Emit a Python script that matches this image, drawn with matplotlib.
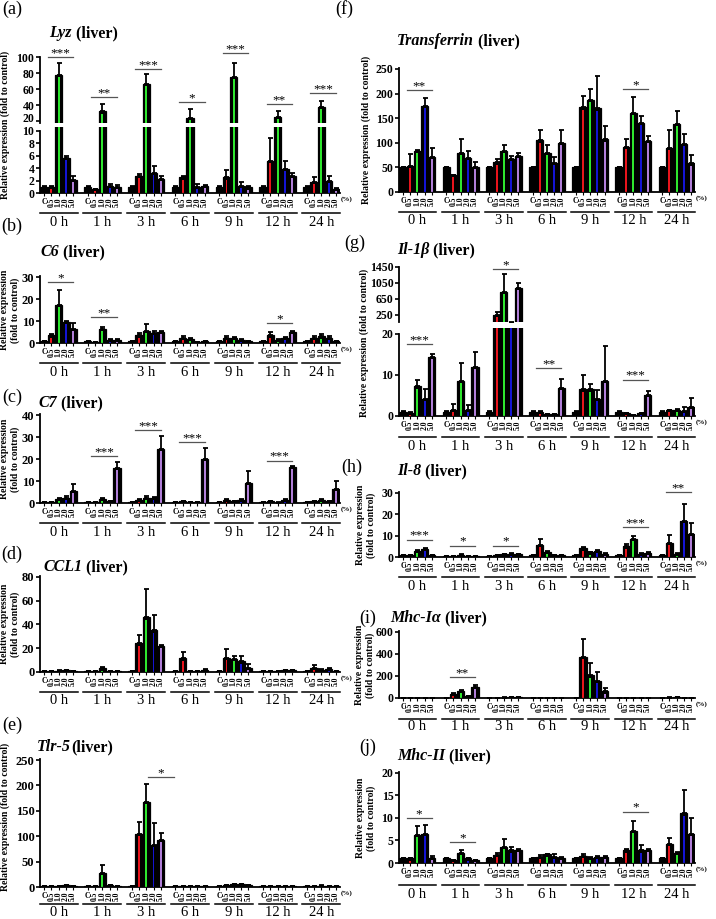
import numpy as np
import matplotlib.pyplot as plt
from matplotlib import transforms

plt.rcParams['font.family'] = ['Liberation Serif', 'DejaVu Serif']

W, H = 716, 919
fig = plt.figure(figsize=(W / 100, H / 100), dpi=100)

times = ['0 h', '1 h', '3 h', '6 h', '9 h', '12 h', '24 h']
doses = ['C', '0.5', '1.0', '2.0', '5.0']
colors = ['black', '#e8141c', '#2ee62e', '#1414d2', '#b07ed8']

# mean values per time point (C, 0.5, 1.0, 2.0, 5.0) and top of the error bar
lyz_mean = [[1.0, 1.0, 78, 5.6, 2.1], [1.0, 0.6, 32, 1.2, 1.0], [1.0, 2.8, 66, 3.2, 2.3],
            [1.0, 2.5, 24, 1.0, 1.2], [1.0, 2.5, 75, 1.2, 0.9], [1.0, 5.2, 25, 3.9, 2.8],
            [1.0, 1.8, 38, 2.0, 0.7]]
lyz_top = [[1.2, 1.1, 93, 5.9, 2.8], [1.1, 0.7, 41, 1.4, 1.3], [1.1, 3.1, 79, 4.3, 2.7],
           [1.1, 2.7, 35, 1.5, 1.3], [1.1, 3.7, 93, 1.7, 1.1], [1.1, 8.8, 32, 5.2, 3.2],
           [1.1, 2.5, 45, 2.8, 0.8]]

c6_mean = [[1.0, 3.5, 17.5, 9.5, 6.5], [1.0, 0.5, 6.5, 1.5, 1.5], [1.0, 3.5, 5.5, 4.5, 5.0],
           [1.0, 2.5, 2.0, 0.5, 1.0], [1.0, 2.5, 2.5, 1.5, 1.0], [1.0, 3.5, 1.5, 2.5, 5.0],
           [1.0, 2.5, 3.0, 2.5, 1.0]]
c6_top = [[1.1, 4.0, 24, 9.8, 9.0], [1.1, 0.6, 7.2, 1.7, 1.7], [1.1, 4.5, 8.5, 5.5, 5.5],
          [1.1, 3.0, 2.5, 0.6, 1.1], [1.1, 3.0, 2.8, 1.7, 1.1], [1.1, 5.0, 1.7, 2.8, 5.3],
          [1.1, 3.0, 4.0, 3.0, 1.1]]

c7_mean = [[0.5, 0.5, 2.0, 2.5, 5.5], [0.5, 0.5, 2.0, 1.0, 16], [0.5, 1.5, 2.5, 2.5, 24.5],
           [0.5, 1.0, 0.5, 0.5, 20], [0.5, 1.5, 1.0, 1.5, 9.0], [0.5, 0.8, 0.2, 1.5, 16.3],
           [0.5, 1.0, 1.5, 1.0, 6.5]]
c7_top = [[0.6, 0.6, 2.5, 3.0, 8.8], [0.6, 0.6, 2.3, 1.1, 18.5], [0.6, 1.7, 3.0, 2.8, 30.5],
          [0.6, 1.1, 0.6, 0.6, 25], [0.6, 2.0, 1.1, 1.7, 14.5], [0.6, 0.9, 0.3, 1.6, 16.6],
          [0.6, 1.1, 1.7, 1.1, 10]]

ccl1_mean = [[0.8, 0.8, 1.2, 1.5, 0.8], [0.8, 1.0, 3.0, 1.0, 0.5], [0.5, 24, 46, 35, 22],
             [0.5, 11.5, 0.5, 0.5, 2.0], [0.5, 12, 11, 9, 3.5], [0.5, 0.5, 0.5, 1.5, 1.5],
             [0.5, 3.5, 2.0, 2.5, 1.0]]
ccl1_top = [[0.9, 0.9, 1.4, 1.8, 0.9], [0.9, 1.2, 4.0, 1.2, 0.6], [0.6, 31, 70, 48, 22.5],
            [0.6, 17, 0.6, 0.6, 2.3], [0.6, 19, 13.5, 13.5, 6.5], [0.6, 0.6, 0.6, 1.7, 1.7],
            [0.6, 6.0, 2.3, 3.5, 1.1]]

tlr5_mean = [[1, 1, 2, 3, 1.5], [1, 1, 28, 3, 1], [1, 105, 167, 83, 92], [1, 2, 1.5, 2, 1.5],
             [1, 3, 5, 5, 3], [1, 1.5, 1, 2, 1.5], [1, 1.5, 2.5, 2, 1.5]]
tlr5_top = [[1.2, 1.2, 2.5, 3.5, 2], [1.2, 1.2, 44, 3.5, 1.2], [1.2, 128, 202, 126, 106],
            [1.2, 2.5, 2, 2.5, 2], [1.2, 3.5, 6, 6, 3.5], [1.2, 2, 1.2, 2.5, 2],
            [1.2, 2, 3, 2.5, 2]]

tf_mean = [[50, 53, 83, 175, 71], [50, 34, 79, 70, 51], [50, 60, 84, 67, 74],
           [50, 105, 79, 59, 100], [50, 172, 187, 170, 107], [50, 92, 160, 141, 104],
           [50, 90, 139, 97, 58]]
tf_top = [[50.5, 78, 85, 192, 90], [50.5, 35, 107, 83, 60], [50.5, 68, 96, 73, 79],
          [50.5, 126, 95, 71, 127], [50.5, 195, 209, 236, 134], [50.5, 108, 194, 154, 114],
          [50.5, 125, 165, 117, 75]]

il1b_mean = [[1, 0.8, 7.2, 4.2, 14.5], [1, 1.5, 8.5, 1.5, 12], [1, 250, 835, 60, 925],
             [1, 1, 0.5, 0.5, 6.8], [1, 6.5, 6.5, 4.2, 8.5], [1, 0.7, 0.2, 0.7, 5.2],
             [1, 1.4, 1.4, 1.3, 2.3]]
il1b_top = [[1.1, 0.9, 8.8, 6.7, 15.0], [1.1, 3.0, 13, 2.7, 15.5], [1.1, 335, 1275, 70, 1057],
            [1.1, 1.1, 0.6, 0.6, 9.0], [1.1, 10, 7.7, 6.4, 17], [1.1, 0.8, 0.3, 0.8, 6.1],
            [1.1, 1.5, 1.6, 2.3, 4.5]]

il8_mean = [[1, 1, 3, 3.8, 1], [0.5, 0.3, 1.0, 0.5, 0.5], [0.5, 0.8, 1.2, 1.5, 1.2],
            [1, 5.5, 2.5, 1, 1], [1, 4, 2.2, 2.8, 1.5], [1, 5, 8.5, 1.5, 2],
            [1, 6.5, 1.5, 17, 11]]
il8_top = [[1.1, 1.1, 3.5, 4.3, 1.1], [0.6, 0.4, 1.5, 0.6, 0.6], [0.6, 0.9, 1.4, 1.7, 1.4],
           [1.1, 8.5, 2.8, 1.1, 1.1], [1.1, 4.5, 2.5, 3.2, 1.7], [1.1, 6.3, 10, 1.7, 2.2],
           [1.1, 10.5, 1.7, 25, 16]]

mhc1_mean = [[1, 2, 2, 2, 1.5], [1, 38, 65, 20, 100], [1, 3, 4, 8, 5], [1, 1, 2, 1.5, 1],
             [1, 375, 205, 155, 60], [1, 2, 1.5, 1, 1], [1, 4, 6, 3, 2]]
mhc1_top = [[2, 3, 3, 3, 2.5], [2, 42, 72, 22, 115], [2, 4, 5, 10, 6], [2, 2, 3, 2.5, 2],
            [2, 540, 320, 240, 90], [2, 3, 2.5, 2, 2], [2, 6, 8, 4, 3]]

mhc2_mean = [[1, 1, 6.2, 6.5, 1.2], [1, 0.6, 2.2, 1.0, 0.6], [1, 1.8, 3.5, 2.8, 2.9],
             [1, 1.4, 1.9, 1.3, 1.2], [1, 1.6, 1.2, 1.4, 1.3], [1, 2.8, 7.1, 2.8, 2.9],
             [1, 4.2, 2.3, 11, 6.5]]
mhc2_top = [[1.1, 1.2, 8.3, 8.5, 1.5], [1.1, 0.7, 2.8, 1.1, 0.7], [1.1, 2.2, 5.3, 3.5, 3.0],
            [1.1, 1.8, 2.1, 1.9, 1.3], [1.1, 1.9, 1.3, 1.5, 1.6], [1.1, 3.2, 9.4, 4.0, 3.1],
            [1.1, 5.5, 2.5, 16.3, 10]]

# significance marks: (time index, stars, height of line)
lyz_sig = [(0, '***', 100), (1, '**', 50), (2, '***', 85), (3, '*', 44),
           (4, '***', 105), (5, '**', 41), (6, '***', 55)]
c6_sig = [(0, '*', 27.7), (1, '**', 11.6), (5, '*', 9)]
c7_sig = [(1, '***', 21.4), (2, '***', 33.2), (3, '***', 27.6), (5, '***', 19.3)]
tlr5_sig = [(2, '*', 217)]
tf_sig = [(0, '**', 207), (5, '*', 209)]
il1b_sig_up = [(2, '*', 1400)]
il1b_sig_lo = [(0, '***', 17.5), (3, '**', 11.7), (5, '***', 8.9)]
il8_sig = [(0, '***', 8.1), (1, '*', 5.3), (2, '*', 5.3), (5, '***', 13.9), (6, '**', 30.3)]
mhc1_sig = [(1, '**', 190)]
mhc2_sig = [(0, '*', 10), (1, '*', 4.7), (5, '*', 11.4)]

PITCH = 6
xs = np.array([g * PITCH + i for g in range(7) for i in range(5)], dtype=float)
LEFT = (40, 340)
RIGHT = (399, 695)


def add_ax(col, ytop, ybot, ylim, ticks, spine=None, fs=None):
    x0, x1 = col
    ax = fig.add_axes([x0 / W, 1 - ybot / H, (x1 - x0) / W, (ybot - ytop) / H])
    ax.set_xlim(-0.55, 6 * PITCH + 4.55)
    ax.set_ylim(*ylim)
    ax.set_yticks(ticks)
    if fs is None:
        fs = 9 if col == LEFT else 8.5
    ax.set_yticklabels([str(t) for t in ticks], fontsize=fs, fontweight='bold')
    for s in ['top', 'right']:
        ax.spines[s].set_visible(False)
    ax.spines['left'].set_linewidth(1.3)
    ax.spines['bottom'].set_linewidth(1.3)
    if spine is not None:
        ax.spines['left'].set_bounds(*spine)
    ax.tick_params(axis='y', length=3, width=1.2, pad=1)
    return ax


def nudge(label, dy_px):
    label.set_transform(label.get_transform() +
                        transforms.ScaledTranslation(0, dy_px / 100, fig.dpi_scale_trans))


def draw_bars(ax, mean, top):
    m = np.array(mean, dtype=float).ravel()
    t = np.array(top, dtype=float).ravel()
    y0, y1 = ax.get_ylim()
    hpx = ax.get_position().height * H
    shrink = 2.2 * (y1 - y0) / hpx
    cols = [colors[i] for g in range(7) for i in range(5)]
    ax.errorbar(xs, m, yerr=[np.zeros_like(m), t - m], fmt='none', ecolor='black',
                elinewidth=1.3, capsize=1.8, capthick=1.3, zorder=1)
    ax.bar(xs, m, width=1.0, color='black', linewidth=0, zorder=2)
    sel = np.array([i > 0 for g in range(7) for i in range(5)])
    ax.bar(xs[sel], np.maximum(m[sel] - shrink, 0), width=0.26,
           color=[c for c, s in zip(cols, sel) if s], linewidth=0, zorder=3)
    ax.bar(xs, m, width=1.0, fill=False, edgecolor='black', linewidth=0.9, zorder=4)


def draw_sig(ax, sig, x0off=0.5, x1off=4.0):
    for g, stars, y in sig:
        a, b = g * PITCH + x0off, g * PITCH + x1off
        ax.plot([a, b], [y, y], color='#555555', lw=0.9, clip_on=False, zorder=5)
        ax.annotate(stars, xy=((a + b) / 2, y), xytext=(0, -1.5), textcoords='offset points',
                    ha='center', va='bottom', fontsize=9.5, annotation_clip=False)


def x_axis(ax, col, y0px, dline=20, dtime=29):
    ax.set_xticks(xs)
    labels = ax.set_xticklabels(doses * 7, fontsize=5.5, fontweight='bold')
    for k, lab in enumerate(labels):
        lab.set_rotation(0 if k % 5 == 0 else 90)
        lab.set_va('top')
    ax.tick_params(axis='x', length=2, width=0.8, pad=1.5)
    tr = transforms.blended_transform_factory(ax.transData, fig.transFigure)
    for g, name in enumerate(times):
        a, b = g * PITCH - 0.6, g * PITCH + 4.6
        ax.plot([a, b], [1 - (y0px + dline) / H] * 2, color='black', lw=1.1,
                transform=tr, clip_on=False)
        ax.text((a + b) / 2, 1 - (y0px + dtime) / H, name, transform=tr, ha='center',
                va='center', fontsize=10.5)
    fig.text((col[1] + 1) / W, 1 - (y0px + 6) / H, '(%)', fontsize=5, fontweight='bold',
             ha='left', va='center')


def hide_x(ax):
    ax.spines['bottom'].set_visible(False)
    ax.set_xticks([])


renderer = fig.canvas.get_renderer()


def title(xpx, ypx, gene, rest):
    t = fig.text(xpx / W, 1 - ypx / H, gene, fontsize=11.5, fontweight='bold',
                 fontstyle='italic', ha='left', va='center')
    bb = t.get_window_extent(renderer)
    fig.text(bb.x1 / W, 1 - ypx / H, rest, fontsize=11.5, fontweight='bold',
             ha='left', va='center')


def panel_label(xpx, ypx, s):
    fig.text(xpx / W, 1 - ypx / H, s, fontsize=13, ha='center', va='center')


def ylabel(xpx, ypx, two_lines):
    s = 'Relative expression\n(fold to control)' if two_lines else \
        'Relative expression (fold to control)'
    fig.text(xpx / W, 1 - ypx / H, s, rotation=90, fontsize=7, fontweight='bold',
             ha='center', va='center', linespacing=1.1, multialignment='center')


# (a) Lyz, broken axis
ax = add_ax(LEFT, 56.2, 122.7, (17.9, 101), [20, 40, 60, 80, 100], spine=(17.9, 100), fs=8.5)
draw_bars(ax, lyz_mean, lyz_top)
draw_sig(ax, lyz_sig)
hide_x(ax)
nudge(ax.get_yticklabels()[0], 3.2)
ax = add_ax(LEFT, 126.7, 193, (0, 10.65), [0, 2, 4, 6, 8, 10], spine=(0, 10), fs=8.5)
draw_bars(ax, lyz_mean, lyz_top)
x_axis(ax, LEFT, 193)

# (b) C6
ax = add_ax(LEFT, 275.9, 343, (0, 30.5), [0, 10, 20, 30])
draw_bars(ax, c6_mean, c6_top)
draw_sig(ax, c6_sig)
x_axis(ax, LEFT, 343)

# (c) C7
ax = add_ax(LEFT, 413.9, 503, (0, 40.5), [0, 10, 20, 30, 40])
draw_bars(ax, c7_mean, c7_top)
draw_sig(ax, c7_sig)
x_axis(ax, LEFT, 503)

# (d) CCL1
ax = add_ax(LEFT, 575.8, 672, (0, 81), [0, 20, 40, 60, 80])
draw_bars(ax, ccl1_mean, ccl1_top)
x_axis(ax, LEFT, 672)

# (e) Tlr-5
ax = add_ax(LEFT, 759, 887, (0, 252), [0, 50, 100, 150, 200, 250])
draw_bars(ax, tlr5_mean, tlr5_top)
draw_sig(ax, tlr5_sig, 2.3, 5.8)
x_axis(ax, LEFT, 887, 17, 25.5)

# (f) Transferrin
ax = add_ax(RIGHT, 68, 192, (0, 252), [0, 50, 100, 150, 200, 250])
draw_bars(ax, tf_mean, tf_top)
draw_sig(ax, tf_sig)
x_axis(ax, RIGHT, 192)

# (g) Il-1b, broken axis
ax = add_ax(RIGHT, 266.5, 322, (75, 1460), [250, 650, 1050, 1450], spine=(75, 1450))
draw_bars(ax, il1b_mean, il1b_top)
draw_sig(ax, il1b_sig_up)
hide_x(ax)
ax = add_ax(RIGHT, 328, 416, (0, 21.46), [0, 10, 20], spine=(0, 20))
draw_bars(ax, il1b_mean, il1b_top)
draw_sig(ax, il1b_sig_lo)
x_axis(ax, RIGHT, 416, 21, 30)

# (h) Il-8
ax = add_ax(RIGHT, 491.9, 557, (0, 30.5), [0, 10, 20, 30])
draw_bars(ax, il8_mean, il8_top)
draw_sig(ax, il8_sig)
x_axis(ax, RIGHT, 557)

# (i) Mhc-I alpha
ax = add_ax(RIGHT, 631.3, 698, (0, 606), [0, 200, 400, 600])
draw_bars(ax, mhc1_mean, mhc1_top)
draw_sig(ax, mhc1_sig)
x_axis(ax, RIGHT, 698, 21, 29)

# (j) Mhc-II
ax = add_ax(RIGHT, 771.6, 863, (0, 20.3), [0, 5, 10, 15, 20])
draw_bars(ax, mhc2_mean, mhc2_top)
draw_sig(ax, mhc2_sig)
x_axis(ax, RIGHT, 863, 22, 32)

# titles, panel letters, y labels
title(49, 33, 'Lyz', ' (liver)')
title(40, 252, 'C6', ' (liver)')
title(38, 403, 'C7', ' (liver)')
title(43, 567, 'CCL1', ' (liver)')
title(37, 747, 'Tlr-5', '(liver)')
title(397, 41, 'Transferrin', ' (liver)')
title(397, 250, 'Il-1β', ' (liver)')
title(397, 471, 'Il-8', ' (liver)')
title(390, 618, 'Mhc-Iα', ' (liver)')
title(397, 756, 'Mhc-II', ' (liver)')

for lab, x, y in [('(a)', 12, 9), ('(b)', 12, 226), ('(c)', 12, 397), ('(d)', 12, 554),
                  ('(e)', 12, 725), ('(f)', 344, 9), ('(g)', 355, 243), ('(h)', 352, 467),
                  ('(i)', 368, 618), ('(j)', 368, 747)]:
    panel_label(x, y, lab)

ylabel(5, 125, False)
ylabel(10, 310, True)
ylabel(10, 459, True)
ylabel(10, 624, True)
ylabel(5, 817, False)
ylabel(366, 130, False)
ylabel(364, 343, False)
ylabel(366, 525, True)
ylabel(365, 665, True)
ylabel(366, 818, True)

fig.savefig('out.png', dpi=100)
